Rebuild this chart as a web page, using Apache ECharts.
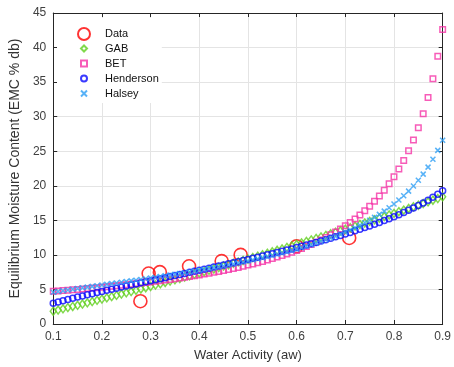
<!DOCTYPE html>
<html>
<head>
<meta charset="utf-8">
<script src="https://cdn.jsdelivr.net/npm/echarts@6/dist/echarts.min.js"></script>
<style>
  html, body { margin: 0; padding: 0; background: #fff; }
  #chart { width: 454px; height: 367px; }
</style>
</head>
<body>
<div id="chart"></div>
<script>
// measured sorption data
const dataAw = [0.279, 0.296, 0.319, 0.379, 0.446, 0.485, 0.600, 0.708]
const dataEmc = [3.3, 7.3, 7.5, 8.35, 9.1, 10.0, 11.25, 12.45]

// model curves at aw = 0.10 ... 0.90
const aw = [
  0.10, 0.11, 0.12, 0.13, 0.14, 0.15, 0.16, 0.17, 0.18, 0.19,
  0.20, 0.21, 0.22, 0.23, 0.24, 0.25, 0.26, 0.27, 0.28, 0.29,
  0.30, 0.31, 0.32, 0.33, 0.34, 0.35, 0.36, 0.37, 0.38, 0.39,
  0.40, 0.41, 0.42, 0.43, 0.44, 0.45, 0.46, 0.47, 0.48, 0.49,
  0.50, 0.51, 0.52, 0.53, 0.54, 0.55, 0.56, 0.57, 0.58, 0.59,
  0.60, 0.61, 0.62, 0.63, 0.64, 0.65, 0.66, 0.67, 0.68, 0.69,
  0.70, 0.71, 0.72, 0.73, 0.74, 0.75, 0.76, 0.77, 0.78, 0.79,
  0.80, 0.81, 0.82, 0.83, 0.84, 0.85, 0.86, 0.87, 0.88, 0.89,
  0.90
]
const gabEmc = [
  1.85, 2.02, 2.19, 2.37, 2.54, 2.71, 2.89, 3.07, 3.24, 3.42,
  3.60, 3.78, 3.96, 4.14, 4.33, 4.51, 4.70, 4.88, 5.07, 5.25,
  5.44, 5.63, 5.82, 6.01, 6.21, 6.40, 6.59, 6.79, 6.98, 7.18,
  7.38, 7.57, 7.77, 7.97, 8.17, 8.38, 8.58, 8.78, 8.99, 9.19,
  9.40, 9.61, 9.81, 10.02, 10.23, 10.44, 10.66, 10.87, 11.08, 11.30,
  11.51, 11.73, 11.95, 12.16, 12.38, 12.60, 12.82, 13.05, 13.27, 13.49,
  13.72, 13.94, 14.17, 14.40, 14.62, 14.85, 15.08, 15.31, 15.55, 15.78,
  16.01, 16.25, 16.48, 16.72, 16.96, 17.19, 17.43, 17.67, 17.91, 18.15,
  18.40
]
const betEmc = [
  4.73, 4.79, 4.84, 4.90, 4.95, 5.01, 5.07, 5.13, 5.20, 5.26,
  5.33, 5.39, 5.46, 5.53, 5.61, 5.68, 5.76, 5.84, 5.92, 6.00,
  6.09, 6.17, 6.27, 6.36, 6.45, 6.55, 6.66, 6.76, 6.87, 6.98,
  7.10, 7.22, 7.34, 7.47, 7.61, 7.75, 7.89, 8.04, 8.19, 8.35,
  8.52, 8.69, 8.88, 9.06, 9.26, 9.47, 9.68, 9.91, 10.14, 10.39,
  10.65, 10.92, 11.21, 11.51, 11.83, 12.17, 12.53, 12.91, 13.31, 13.74,
  14.20, 14.69, 15.21, 15.78, 16.39, 17.04, 17.75, 18.52, 19.36, 20.29,
  21.30, 22.42, 23.67, 25.06, 26.63, 28.40, 30.43, 32.77, 35.50, 38.73,
  42.60
]
const hendersonEmc = [
  3.00, 3.19, 3.37, 3.55, 3.72, 3.90, 4.06, 4.23, 4.39, 4.56,
  4.72, 4.88, 5.03, 5.19, 5.34, 5.50, 5.65, 5.80, 5.96, 6.11,
  6.26, 6.41, 6.56, 6.71, 6.86, 7.01, 7.16, 7.32, 7.47, 7.62,
  7.77, 7.92, 8.08, 8.23, 8.39, 8.55, 8.70, 8.86, 9.02, 9.18,
  9.34, 9.51, 9.67, 9.84, 10.01, 10.17, 10.35, 10.52, 10.70, 10.87,
  11.06, 11.24, 11.42, 11.61, 11.81, 12.00, 12.20, 12.40, 12.61, 12.82,
  13.03, 13.25, 13.48, 13.71, 13.95, 14.19, 14.44, 14.70, 14.96, 15.24,
  15.53, 15.82, 16.13, 16.45, 16.79, 17.15, 17.52, 17.91, 18.34, 18.78,
  19.27
]
const halseyEmc = [
  4.60, 4.71, 4.82, 4.93, 5.03, 5.14, 5.24, 5.34, 5.44, 5.54,
  5.64, 5.74, 5.84, 5.94, 6.04, 6.14, 6.24, 6.34, 6.44, 6.55,
  6.65, 6.76, 6.86, 6.97, 7.08, 7.19, 7.30, 7.42, 7.53, 7.65,
  7.77, 7.89, 8.02, 8.14, 8.27, 8.40, 8.54, 8.68, 8.82, 8.96,
  9.11, 9.26, 9.41, 9.57, 9.74, 9.91, 10.08, 10.26, 10.45, 10.64,
  10.83, 11.04, 11.25, 11.47, 11.70, 11.94, 12.19, 12.44, 12.71, 13.00,
  13.29, 13.60, 13.93, 14.27, 14.64, 15.02, 15.43, 15.86, 16.33, 16.82,
  17.36, 17.93, 18.56, 19.23, 19.97, 20.79, 21.69, 22.70, 23.83, 25.12,
  26.60
]

const FONT = '"Liberation Sans", Arial, Helvetica, sans-serif'
const AXIS_COLOR = '#262626'
const GRID_COLOR = '#e4e4e4'
const CLEAR = 'rgba(0,0,0,0)'

function zip(xs, ys) {
  return xs.map((x, i) => [x, ys[i]])
}

function modelSeries(name, ys, symbol, size, color, width) {
  return {
    name,
    type: 'scatter',
    data: zip(aw, ys),
    symbol,
    symbolSize: size,
    itemStyle: { color: CLEAR, borderColor: color, borderWidth: width },
    silent: true,
  }
}

function frameAxis(position) {
  return {
    type: 'value',
    position,
    axisLine: { show: true, onZero: false, lineStyle: { color: AXIS_COLOR, width: 1 } },
    axisTick: { show: true, inside: true, length: 4, lineStyle: { color: AXIS_COLOR } },
    axisLabel: { show: false },
    splitLine: { show: false },
  }
}

const chart = echarts.init(document.getElementById('chart'), null, { renderer: 'canvas' })

chart.setOption({
  animation: false,
  backgroundColor: '#fff',
  grid: { left: 52, right: 7, top: 13, bottom: 42 },
  xAxis: [
    {
      type: 'value',
      min: 0.1,
      max: 0.9,
      interval: 0.1,
      name: 'Water Activity (aw)',
      nameLocation: 'middle',
      nameGap: 25,
      nameTextStyle: { color: '#333', fontFamily: FONT, fontSize: 13 },
      axisLine: { onZero: false, lineStyle: { color: AXIS_COLOR, width: 1 } },
      axisTick: { inside: true, length: 4, lineStyle: { color: AXIS_COLOR } },
      axisLabel: { color: '#404040', fontFamily: FONT, fontSize: 12, margin: 7 },
      splitLine: { show: true, lineStyle: { color: GRID_COLOR, width: 1 } },
    },
    Object.assign(frameAxis('top'), { min: 0.1, max: 0.9, interval: 0.1 }),
  ],
  yAxis: [
    {
      type: 'value',
      min: 0,
      max: 45,
      interval: 5,
      name: 'Equilibrium Moisture Content (EMC % db)',
      nameLocation: 'middle',
      nameGap: 24,
      nameTextStyle: { color: '#333', fontFamily: FONT, fontSize: 14 },
      axisLine: { show: true, onZero: false, lineStyle: { color: AXIS_COLOR, width: 1 } },
      axisTick: { show: true, inside: true, length: 4, lineStyle: { color: AXIS_COLOR } },
      axisLabel: { color: '#404040', fontFamily: FONT, fontSize: 12, margin: 7 },
      splitLine: { show: true, lineStyle: { color: GRID_COLOR, width: 1 } },
    },
    Object.assign(frameAxis('right'), { min: 0, max: 45, interval: 5 }),
  ],
  legend: [
    {
      data: ['Data'],
      orient: 'vertical',
      left: 57,
      top: 18,
      padding: [9, 34, 3, 20],
      backgroundColor: '#fff',
      itemWidth: 12,
      itemHeight: 12,
      textStyle: { color: '#111', fontFamily: FONT, fontSize: 11, lineHeight: 13, padding: [0, 0, 0, 10] },
      selectedMode: false,
    },
    {
      data: ['GAB', 'BET', 'Henderson', 'Halsey'],
      orient: 'vertical',
      left: 57,
      top: 41,
      padding: [1, 3, 3, 23],
      itemGap: 2,
      backgroundColor: '#fff',
      itemWidth: 6,
      itemHeight: 6,
      textStyle: { color: '#111', fontFamily: FONT, fontSize: 11, lineHeight: 13, padding: [0, 0, 0, 13] },
      selectedMode: false,
    },
  ],
  series: [
    {
      name: 'Data',
      type: 'scatter',
      data: zip(dataAw, dataEmc),
      symbol: 'circle',
      symbolSize: 13,
      itemStyle: { color: CLEAR, borderColor: '#ff0000', borderWidth: 1.6 },
      silent: true,
    },
    modelSeries('GAB', gabEmc, 'diamond', [6, 8], '#62cf1f', 1.5),
    modelSeries('BET', betEmc, 'rect', 5.5, '#f533a6', 1.5),
    modelSeries('Henderson', hendersonEmc, 'circle', 6, '#0a0aff', 1.5),
    modelSeries('Halsey', halseyEmc, 'path://M0,0L10,10M0,10L10,0', 5, '#2e9ff5', 1.5),
  ],
})
</script>
</body>
</html>
